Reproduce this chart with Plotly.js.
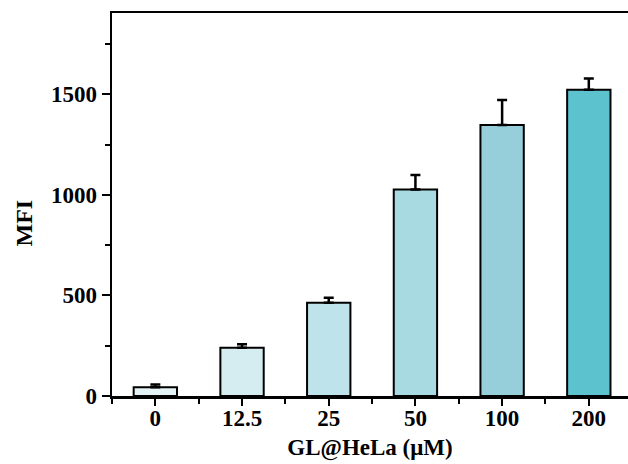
<!DOCTYPE html>
<html>
<head>
<meta charset="utf-8">
<script src="https://cdn.plot.ly/plotly-3.0.1.min.js"></script>
<style>html,body{margin:0;padding:0;background:#fff;}#chart{width:628px;height:464px;}</style>
</head>
<body>
<div id="chart"></div>
<script>
const categories = ["0", "12.5", "25", "50", "100", "200"];
const mfiValues = [43, 240, 464, 1027, 1347, 1522];
const mfiErrors = [14, 17, 25, 72, 124, 56];
const barColors = ["#e4f3f5", "#d5edf1", "#bee3ea", "#a8dae1", "#96cfd9", "#5cc2ce"];
const yTickVals = [0, 500, 1000, 1500];

const xIdx = categories.map((c, i) => i);

const trace = {
  type: "bar",
  x: xIdx,
  y: mfiValues,
  width: 0.5,
  marker: { color: barColors, line: { color: "#000", width: 2 } },
  error_y: {
    type: "data",
    array: mfiErrors,
    arrayminus: mfiErrors.map(() => 0),
    symmetric: false,
    color: "#000",
    thickness: 2.5,
    width: 5
  },
  hoverinfo: "none"
};

const fam = "'Liberation Serif'";

const layout = {
  width: 628,
  height: 464,
  margin: { l: 112, r: 0, t: 13, b: 68 },
  paper_bgcolor: "#fff",
  plot_bgcolor: "#fff",
  showlegend: false,
  font: { family: fam, color: "#000" },
  xaxis: {
    range: [-0.5, 5.452],
    tickvals: xIdx,
    ticktext: categories,
    ticks: "outside",
    ticklen: 7,
    tickwidth: 2,
    tickcolor: "#000",
    ticklabelstandoff: -7,
    minor: { tick0: -0.5, dtick: 1, ticks: "outside", ticklen: 5, tickwidth: 2, tickcolor: "#000" },
    showline: true,
    linecolor: "#000",
    linewidth: 2.5,
    mirror: true,
    showgrid: false,
    zeroline: false,
    tickfont: { family: fam, size: 23, color: "#000", weight: "bold" },
    title: { text: "GL@HeLa (μM)", font: { family: fam, size: 23, color: "#000", weight: "bold" }, standoff: 9 }
  },
  yaxis: {
    range: [0, 1904],
    tickvals: yTickVals,
    ticks: "outside",
    ticklen: 8,
    tickwidth: 2,
    tickcolor: "#000",
    minor: { tick0: 0, dtick: 250, ticks: "outside", ticklen: 5, tickwidth: 2, tickcolor: "#000" },
    showline: true,
    linecolor: "#000",
    linewidth: 2.5,
    mirror: false,
    showgrid: false,
    zeroline: false,
    tickfont: { family: fam, size: 23, color: "#000", weight: "bold" }
  },
  annotations: [{
    text: "MFI",
    xref: "paper", yref: "paper",
    x: -0.1696, y: 0.4517,
    xanchor: "center", yanchor: "middle",
    textangle: -90,
    showarrow: false,
    font: { family: fam, size: 24, color: "#000", weight: "bold" }
  }]
};

Plotly.newPlot("chart", [trace], layout, { staticPlot: true, displayModeBar: false });
</script>
</body>
</html>
